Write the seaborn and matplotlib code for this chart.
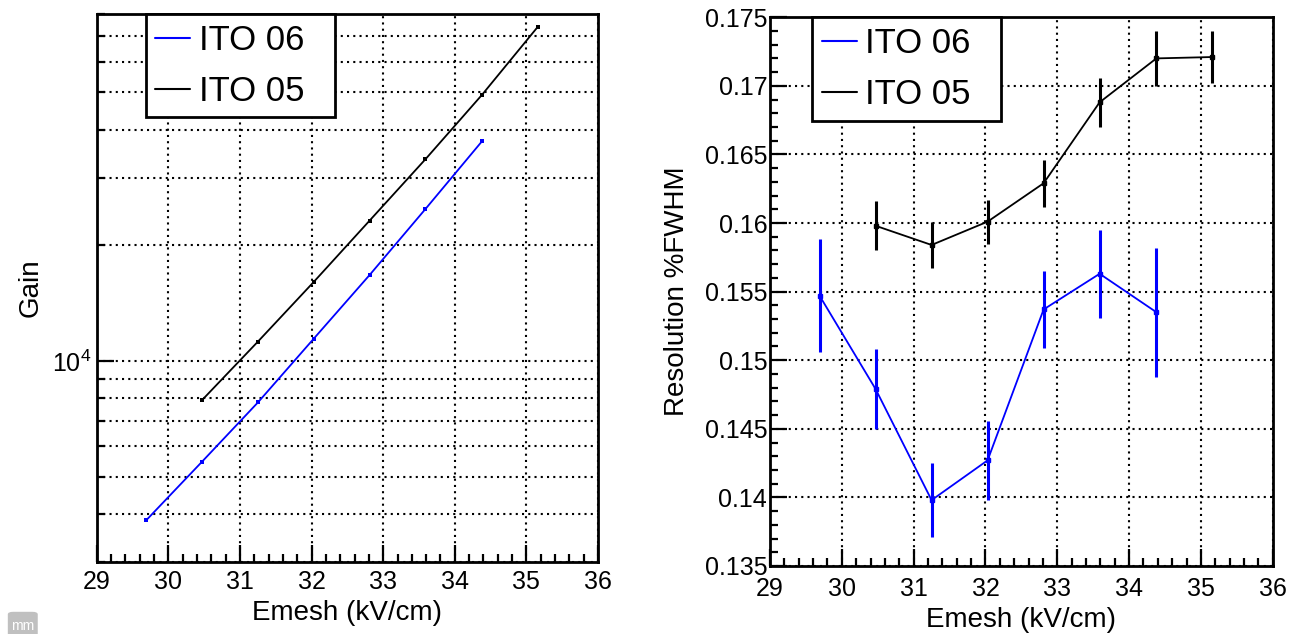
import matplotlib
matplotlib.use('Agg')
import pandas as pd
import matplotlib.pyplot as plt
import seaborn as sns
from matplotlib.lines import Line2D
from matplotlib.patches import FancyBboxPatch
from matplotlib.ticker import (LogLocator, NullFormatter, MultipleLocator,
                               FuncFormatter, LogFormatterSciNotation)

# Emesh values (kV/cm) for each series
emesh_06 = [29.69, 30.47, 31.25, 32.03, 32.81, 33.59, 34.38]
emesh_05 = [30.47, 31.25, 32.03, 32.81, 33.59, 34.38, 35.16]

# gain curves
gain_06 = [3850, 5470, 7800, 11430, 16740, 24860, 37310]
gain_05 = [7910, 11230, 16060, 23190, 33500, 49280, 74100]

# energy resolution (FWHM) with errors
res_06 = [0.1547, 0.1479, 0.1398, 0.1427, 0.1537, 0.1563, 0.1535]
err_06 = [0.0041, 0.0029, 0.0027, 0.0029, 0.0028, 0.0032, 0.0047]
res_05 = [0.1598, 0.1584, 0.1601, 0.1629, 0.1688, 0.1720, 0.1721]
err_05 = [0.0018, 0.0017, 0.0016, 0.0017, 0.0018, 0.0020, 0.0019]

labels = ['ITO 06', 'ITO 05']
colors = {'ITO 06': '#0000ff', 'ITO 05': 'black'}

gain_df = pd.DataFrame({
    'Emesh': emesh_06 + emesh_05,
    'Gain': gain_06 + gain_05,
    'Sample': ['ITO 06'] * len(emesh_06) + ['ITO 05'] * len(emesh_05),
})
res_df = pd.DataFrame({
    'Emesh': emesh_06 + emesh_05,
    'Res': res_06 + res_05,
    'Err': err_06 + err_05,
    'Sample': ['ITO 06'] * len(emesh_06) + ['ITO 05'] * len(emesh_05),
})

sns.set_style('white')
plt.rcParams['font.family'] = ['Liberation Sans', 'DejaVu Sans']
plt.rcParams['mathtext.fontset'] = 'custom'
plt.rcParams['mathtext.rm'] = 'Liberation Sans'
plt.rcParams['mathtext.it'] = 'Liberation Sans'
for key in ('text.color', 'axes.labelcolor', 'xtick.color', 'ytick.color'):
    plt.rcParams[key] = 'black'

fig = plt.figure(figsize=(13.02, 6.34), dpi=100)
ax1 = fig.add_axes([0.0743, 0.1136, 0.385, 0.8644])
ax2 = fig.add_axes([0.5914, 0.1073, 0.3861, 0.8655])

grid_kw = dict(color='black', linestyle=(0, (1, 2)), linewidth=1.5)

# ---- left: gain ----
sns.lineplot(data=gain_df, x='Emesh', y='Gain', hue='Sample', hue_order=labels,
             palette=colors, marker='s', markersize=3.5, markeredgewidth=0,
             linewidth=1.3, sort=False, errorbar=None, legend=False, ax=ax1)
ax1.set_yscale('log')
ax1.set_ylim(3000, 80000)
ax1.set_xlim(29, 36)
ax1.yaxis.set_major_locator(LogLocator(base=10, numticks=10))
ax1.yaxis.set_major_formatter(LogFormatterSciNotation())
ax1.yaxis.set_minor_locator(LogLocator(base=10, subs=range(2, 10), numticks=20))
ax1.yaxis.set_minor_formatter(NullFormatter())
ax1.grid(True, which='both', axis='y', **grid_kw)

# ---- right: resolution ----
sns.lineplot(data=res_df, x='Emesh', y='Res', hue='Sample', hue_order=labels,
             palette=colors, linewidth=1.3, sort=False, errorbar=None,
             legend=False, ax=ax2)
for name in labels:
    sub = res_df[res_df['Sample'] == name]
    ax2.errorbar(sub['Emesh'], sub['Res'], yerr=sub['Err'], fmt='s', ms=2.5,
                 color=colors[name], ecolor=colors[name], elinewidth=2.2,
                 capsize=0, linestyle='none')
ax2.set_xlim(29, 36)
ax2.set_ylim(0.135, 0.175)
ax2.yaxis.set_major_locator(MultipleLocator(0.005))
ax2.yaxis.set_minor_locator(MultipleLocator(0.001))
ax2.yaxis.set_major_formatter(FuncFormatter(lambda v, p: f'{v:g}'))
ax2.grid(True, which='major', axis='y', **grid_kw)

for ax in (ax1, ax2):
    ax.set_axisbelow(True)
    ax.xaxis.set_major_locator(MultipleLocator(1))
    ax.xaxis.set_minor_locator(MultipleLocator(0.2))
    ax.xaxis.set_major_formatter(FuncFormatter(lambda v, p: f'{v:.0f}'))
    ax.grid(True, which='major', axis='x', **grid_kw)
    for s in ax.spines.values():
        s.set_visible(True)
        s.set_color('black')
        s.set_linewidth(2)
    ax.tick_params(which='both', direction='in', bottom=True, left=True,
                   top=False, right=False, width=1.6, color='black')
    ax.tick_params(which='major', length=12, labelsize=18)
    ax.tick_params(which='minor', length=6)
    ax.set_xlabel('Emesh (kV/cm)', fontsize=20)

ax1.tick_params(axis='x', pad=6)
ax1.tick_params(axis='y', pad=4)
ax2.tick_params(axis='x', pad=8)
ax2.tick_params(axis='y', pad=2)

ax1.set_ylabel('Gain', fontsize=20)
ax2.set_ylabel('Resolution %FWHM', fontsize=20)
ax1.yaxis.set_label_coords(-0.105, 0.5)
ax2.yaxis.set_label_coords(-0.16, 0.5)
ax1.xaxis.set_label_coords(0.5, -0.07)
ax2.xaxis.set_label_coords(0.5, -0.075)

handles = [Line2D([], [], color=colors[n], linewidth=1.5) for n in labels]
leg_kw = dict(loc='upper left', mode='expand', borderaxespad=0, fontsize=25,
              frameon=True, fancybox=False, framealpha=1, edgecolor='black',
              handlelength=1.0, handletextpad=0.25, borderpad=0.28,
              labelspacing=0.52)
leg1 = ax1.legend(handles, labels, bbox_to_anchor=(0.0977, 0, 0.378, 1.0), **leg_kw)
leg2 = ax2.legend(handles, labels, bbox_to_anchor=(0.0841, 0, 0.3748, 1.0), **leg_kw)
for leg in (leg1, leg2):
    leg.get_frame().set_linewidth(2)

# small grey tag in the corner of the original screenshot
fig.patches.append(FancyBboxPatch((0.006, -0.01), 0.023, 0.045,
                                  boxstyle='round,pad=0,rounding_size=0.004',
                                  transform=fig.transFigure, fc='#c0c0c0',
                                  ec='none', figure=fig))
fig.text(0.0175, 0.013, 'mm', fontsize=10, color='white', ha='center', va='center')

fig.savefig('out.png', dpi=100)
